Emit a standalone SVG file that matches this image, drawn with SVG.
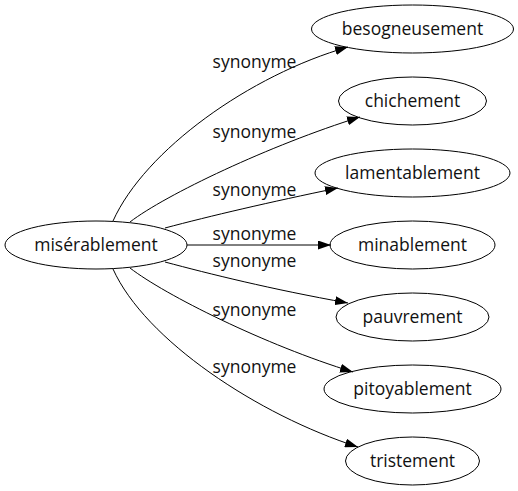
<svg xmlns="http://www.w3.org/2000/svg" width="518" height="491" viewBox="0 0 518 491">
<style>
  .node ellipse { fill: none; stroke: #000; stroke-width: 1; }
  text { font-family: "Open Sans", "Noto Sans", "DejaVu Sans", sans-serif; font-size: 17.5px; fill: #111; text-anchor: middle; }
  .edge { fill: none; stroke: #000; stroke-width: 1; marker-end: url(#arrow); }
</style>
<defs>
  <marker id="arrow" markerUnits="userSpaceOnUse" viewBox="0 0 13 9" refX="13" refY="4.5" markerWidth="13" markerHeight="9" orient="auto">
    <path d="M0,0 L13,4.5 L0,9 z" fill="#000"/>
  </marker>
</defs>
<rect x="0" y="0" width="518" height="491" fill="#fff"/>
<g id="connectors">
  <path class="edge" d="M113,221 C145,150 250,75 348,47"/>
  <path class="edge" d="M130,222 C165,195 270,145 360,117"/>
  <path class="edge" d="M165,228 C210,216 270,202 338,188"/>
  <path class="edge" d="M187,245 L331,245"/>
  <path class="edge" d="M165,262 C210,274 270,289 348,303"/>
  <path class="edge" d="M130,268 C165,295 265,345 353,372"/>
  <path class="edge" d="M113,269 C145,340 258,415 358,447"/>
  <text x="254.5" y="68">synonyme</text>
  <text x="254.5" y="138">synonyme</text>
  <text x="254.5" y="196">synonyme</text>
  <text x="254.5" y="240">synonyme</text>
  <text x="254.5" y="267">synonyme</text>
  <text x="254.5" y="316">synonyme</text>
  <text x="254.5" y="373">synonyme</text>
</g>
<g id="n-miserablement" class="node"><ellipse cx="96" cy="245" rx="91" ry="24"/><text x="96" y="251">misérablement</text></g>
<g id="n-besogneusement" class="node"><ellipse cx="412.5" cy="29" rx="101" ry="24"/><text x="412.5" y="35">besogneusement</text></g>
<g id="n-chichement" class="node"><ellipse cx="412.5" cy="101" rx="74" ry="24"/><text x="412.5" y="107">chichement</text></g>
<g id="n-lamentablement" class="node"><ellipse cx="412.5" cy="173" rx="97.5" ry="24"/><text x="412.5" y="179">lamentablement</text></g>
<g id="n-minablement" class="node"><ellipse cx="412.5" cy="245" rx="82.5" ry="24"/><text x="412.5" y="251">minablement</text></g>
<g id="n-pauvrement" class="node"><ellipse cx="412.5" cy="317" rx="76.5" ry="24"/><text x="412.5" y="323">pauvrement</text></g>
<g id="n-pitoyablement" class="node"><ellipse cx="412.5" cy="389" rx="88.5" ry="24"/><text x="412.5" y="395">pitoyablement</text></g>
<g id="n-tristement" class="node"><ellipse cx="412.5" cy="461" rx="67" ry="24"/><text x="412.5" y="467">tristement</text></g>
</svg>
